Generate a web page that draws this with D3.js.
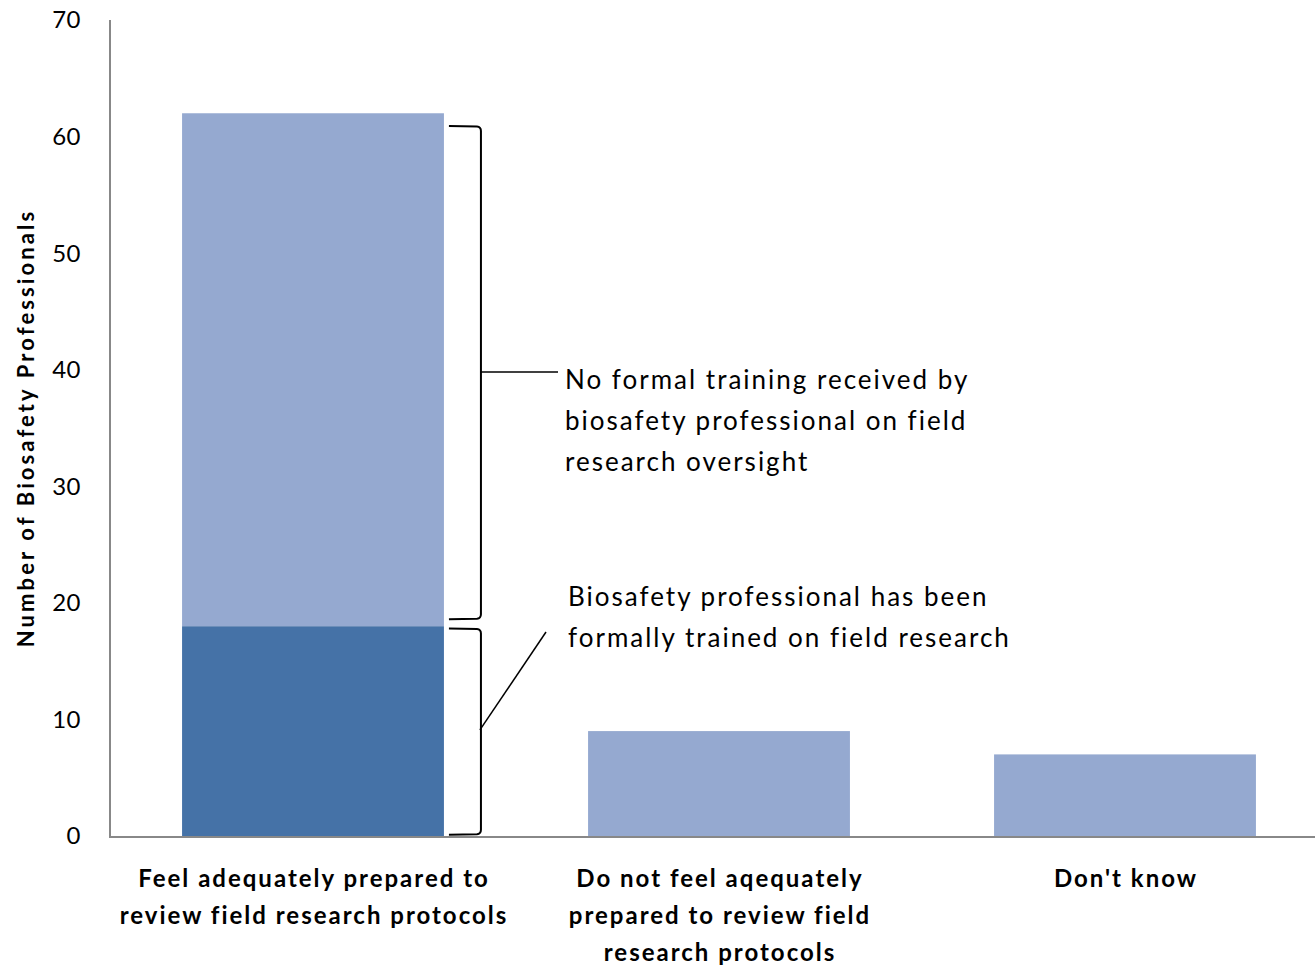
<!DOCTYPE html>
<html><head><meta charset="utf-8">
<script src="https://cdn.jsdelivr.net/npm/d3@7"></script>
<style>html,body{margin:0;padding:0;background:#fff;}svg{display:block;font-family:Lato,"Open Sans",sans-serif;font-variant-ligatures:none;}</style>
</head><body>
<svg id="chart" width="1315" height="968"></svg>
<script>
const categories = ["Feel adequately prepared to review field research protocols","Do not feel aqequately prepared to review field research protocols","Don't know"];
const categoryLines = [["Feel adequately prepared to","review field research protocols"],["Do not feel aqequately","prepared to review field","research protocols"],["Don't know"]];
const trained = [18, 0, 0];
const notTrained = [44, 9, 7];
const yTicks = [0,10,20,30,40,50,60,70];
const yTitle = "Number of Biosafety Professionals";
const noteTop = ["No formal training received by","biosafety professional on field","research oversight"];
const noteBottom = ["Biosafety professional has been","formally trained on field research"];

const svg = d3.select("#chart");
const x = d3.scaleBand().domain(categories).range([110,1328]).paddingInner(0.355).paddingOuter(0.1775);
const y = d3.scaleLinear().domain([0,70]).range([836,20]);

const data = categories.map((c,i)=>({c, a:trained[i], b:notTrained[i]}));
const stack = d3.stack().keys(["a","b"])(data);
const colors = {a:"#4572A7", b:"#95A9D0"};

svg.append("g").selectAll("g").data(stack).join("g").attr("fill",d=>colors[d.key])
  .selectAll("rect").data(d=>d).join("rect")
  .attr("x",d=>x(d.data.c)).attr("width",x.bandwidth())
  .attr("y",d=>y(d[1])).attr("height",d=>y(d[0])-y(d[1]));

// axes
svg.append("line").attr("x1",110).attr("x2",110).attr("y1",y(70)).attr("y2",y(0)+1)
  .attr("stroke","#888").attr("stroke-width",2);
svg.append("line").attr("x1",109).attr("x2",1315).attr("y1",y(0)+1).attr("y2",y(0)+1)
  .attr("stroke","#888").attr("stroke-width",2);

svg.append("g").selectAll("text").data(yTicks).join("text")
  .attr("x",81).attr("y",d=>y(d)).attr("dy","0.35em").attr("text-anchor","end")
  .attr("font-size",24).attr("letter-spacing",0.5).attr("fill","#000").text(d=>d);

svg.append("text").attr("transform",`translate(34,${y(35)}) rotate(-90)`)
  .attr("text-anchor","middle").attr("font-size",22).attr("font-weight","bold")
  .attr("letter-spacing",3.1).text(yTitle);

categories.forEach((c,i)=>{
  const t = svg.append("text").attr("text-anchor","middle").attr("font-size",24).attr("font-weight","bold").attr("letter-spacing",2);
  categoryLines[i].forEach((l,j)=>{
    t.append("tspan").attr("x",x(c)+x.bandwidth()/2+1).attr("y",887+j*37).text(l);
  });
});

// brackets
const bx0 = x(categories[0])+x.bandwidth()+5, bx1 = bx0+32;
function bracket(v0,v1){
  const ya=y(v1), yb=y(v0);
  svg.append("path").attr("fill","none").attr("stroke","#000").attr("stroke-width",2)
    .attr("d",`M${bx0},${ya} L${bx1-4},${ya+0.5} Q${bx1},${ya+1} ${bx1},${ya+5} L${bx1},${yb-5} Q${bx1},${yb-1} ${bx1-4},${yb-0.5} L${bx0},${yb}`);
}
bracket(18.6,60.9);
bracket(0.1,17.8);
svg.append("line").attr("x1",bx1).attr("x2",558).attr("y1",y(39.8)).attr("y2",y(39.8)).attr("stroke","#000").attr("stroke-width",1.5);
svg.append("line").attr("x1",bx1-1).attr("x2",546).attr("y1",y(9.1)).attr("y2",y(17.5)).attr("stroke","#000").attr("stroke-width",1.5);

const t1 = svg.append("text").attr("font-size",26).attr("letter-spacing",2).attr("fill","#000");
noteTop.forEach((l,j)=>t1.append("tspan").attr("x",565).attr("y",389+j*41).text(l));
const t2 = svg.append("text").attr("font-size",26).attr("letter-spacing",2).attr("fill","#000");
noteBottom.forEach((l,j)=>t2.append("tspan").attr("x",568).attr("y",606+j*41).text(l));
</script>
</body></html>
